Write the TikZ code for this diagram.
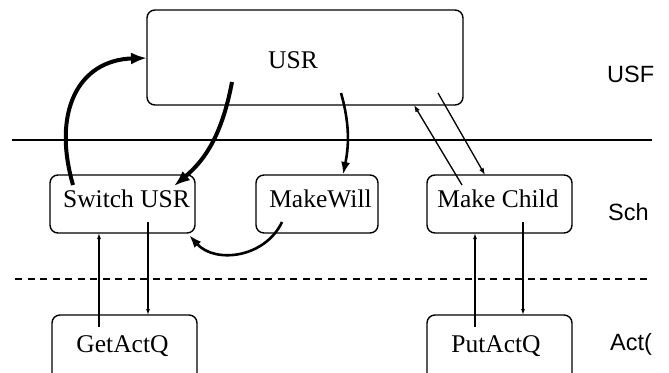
\documentclass[tikz,border=0pt]{standalone}
\usepackage{fontspec}
\setmainfont{Liberation Serif}
\newfontfamily\labfont{Liberation Sans}
\usetikzlibrary{arrows.meta,calc}
\begin{document}
\begin{tikzpicture}[x=1pt,y=-1pt,
  box/.style={draw,line width=1.4pt,rounded corners=8pt,inner sep=0pt,outer sep=0pt},
  boxtext/.style={anchor=base,inner sep=0pt,font=\fontsize{25.5}{30}\selectfont},
  sidelab/.style={anchor=base west,inner sep=0pt,font=\labfont\fontsize{23.5}{28}\selectfont},
  heavy/.style={line width=4pt,-{Latex[length=16pt,width=12pt]}},
  medium/.style={line width=2.6pt,-{Latex[length=13pt,width=9pt]}},
  slim/.style={line width=1.3pt,-{Latex[length=7pt,width=5pt]}},
  vthin/.style={line width=1.1pt,-{Latex[length=6pt,width=4pt]}}]
\useasboundingbox (0,0) rectangle (669,372);
\clip (0,0) rectangle (669,372);
% layer separators
\coordinate (s1) at (12,140);
\coordinate (s2) at (652,140);
\coordinate (d1) at (15,279);
\coordinate (d2) at (652,279);
\draw[line width=1.8pt] (s1) -- (s2);
\draw[line width=1.5pt,dash pattern=on 7pt off 5.5pt] (d1) -- (d2);
% boxes
\node[box,minimum width=316pt,minimum height=95pt] (usr) at (305,57.5) {};
\node[box,minimum width=145pt,minimum height=58pt] (sw) at (122.5,204) {};
\node[box,minimum width=122pt,minimum height=58pt] (mw) at (317,204) {};
\node[box,minimum width=145pt,minimum height=58pt] (mc) at (499.5,204) {};
\node[box,minimum width=145pt,minimum height=70pt] (ga) at (124.5,350) {};
\node[box,minimum width=145pt,minimum height=70pt] (pa) at (499.5,350) {};
% texts
\node[boxtext] (usrt) at (293,68) {USR};
\node[boxtext] (swt) at (126.5,207) {Switch USR};
\node[boxtext] (mwt) at (320.5,207) {MakeWill};
\node[boxtext] (mct) at (498,207) {Make Child};
\node[boxtext] (gat) at (122.5,352) {GetActQ};
\node[boxtext] (pat) at (496,352) {PutActQ};
\node[sidelab] (l1) at (607,82) {USF};
\node[sidelab] (l2) at (608,220) {Sch};
\node[sidelab] (l3) at (610,350) {Act(};
% thick connectors
\draw[heavy] ($(sw.north west)+(23,10)$) .. controls (52,112) and (78,60) .. ($(usr.west)+(0,0.5)$);
\draw[heavy] ($(usr.south west)+(85,-23)$) .. controls (222,135) and (205,160) .. ($(sw.north east)+(-21,11)$);
\draw[medium] ($(usr.south west)+(194,-12)$) .. controls (351,128) and (348,150) .. ($(mw.north)+(26,0)$);
\draw[medium] ($(mw.south west)+(26,-11)$) .. controls (265,258) and (215,264) .. ($(sw.south east)+(-6,2)$);
% diagonal connectors
\draw[slim] ($(mc.north west)+(35,10)$) -- ($(usr.south west)+(267,0)$);
\draw[slim] ($(usr.south east)+(-25,-12)$) -- ($(mc.north west)+(58,0)$);
% vertical connectors
\draw[vthin] ($(ga.north west)+(47,12)$) -- ($(sw.south west)+(49,0)$);
\draw[vthin] ($(sw.south west)+(98,-11)$) -- ($(ga.north west)+(96,0)$);
\draw[vthin] ($(pa.north west)+(48,12)$) -- ($(mc.south west)+(48,0)$);
\draw[vthin] ($(mc.south west)+(96,-11)$) -- ($(pa.north west)+(96,0)$);
\end{tikzpicture}
\end{document}
